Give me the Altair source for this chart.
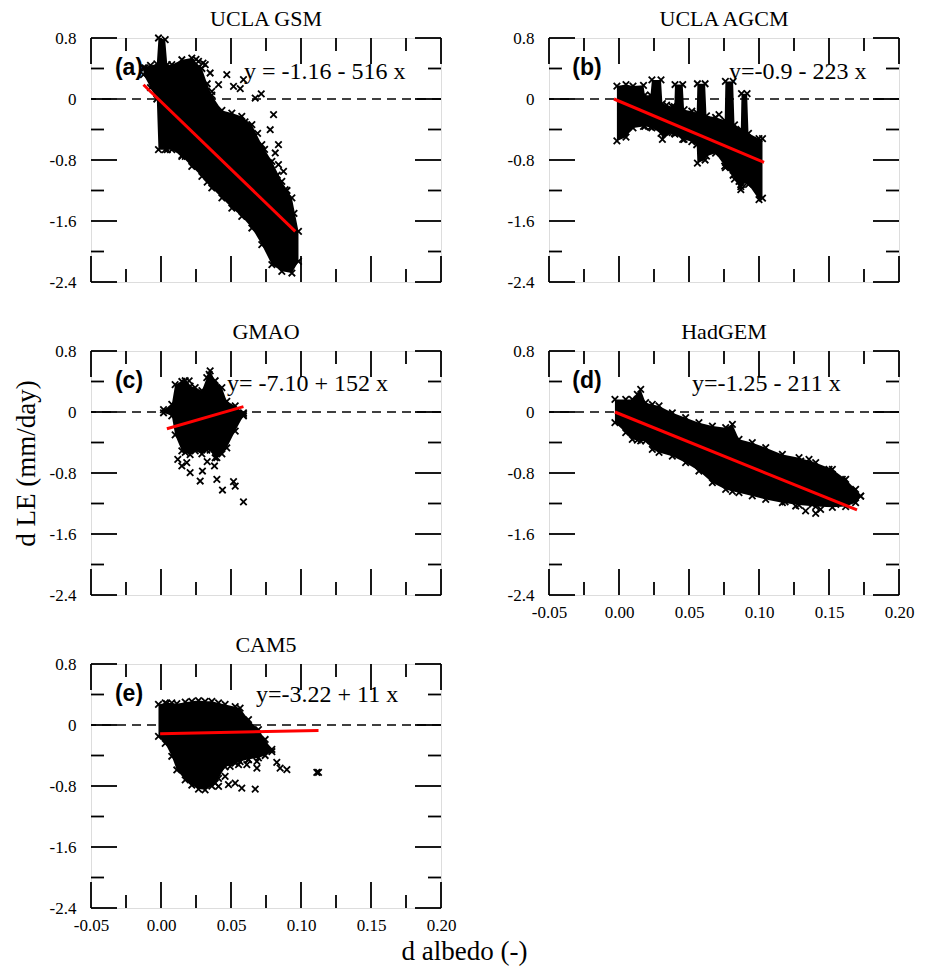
import altair as alt
import pandas as pd

SERIF = "Liberation Serif"
SANS = "Liberation Sans"
X_PATH = "M-1,-1L1,1M-1,1L1,-1"
W, H = 350, 244

# tick values
XT_MAJOR = [-0.05, 0.0, 0.05, 0.10, 0.15, 0.20]
XT_MINOR = [-0.025, 0.025, 0.075, 0.125, 0.175]
YT_MAJOR = [0.8, 0.0, -0.8, -1.6, -2.4]
YT_MINOR = [0.4, -0.4, -1.2, -2.0]

# ---------------- panel (a) UCLA GSM ----------------
a_env_x = [-0.0125, -0.0075, -0.0030, -0.0018, 0.0030, 0.0045, 0.0077, 0.0149, 0.0220, 0.0292,
           0.0330, 0.0363, 0.0435, 0.0506, 0.0577, 0.0649, 0.0720, 0.0792, 0.0863, 0.0935, 0.0982]
a_env_top = [0.41, 0.44, 0.46, 0.80, 0.78, 0.45, 0.45, 0.515, 0.537, 0.40,
             0.20, 0.05, -0.15, -0.184, -0.228, -0.337, -0.599, -0.818, -1.081, -1.298, -1.736]
a_env_bot = [0.32, 0.15, 0.00, -0.665, -0.665, -0.665, -0.665, -0.752, -0.884, -1.015,
             -1.09, -1.167, -1.298, -1.43, -1.54, -1.692, -1.911, -2.173, -2.26, -2.282, -2.13]
a_out_x = [0.0351, 0.0470, 0.0411, 0.0363, 0.0518, 0.0566, 0.0673, 0.0716, 0.0804, 0.0780, 0.0839,
           0.0816, 0.0768, 0.0839, 0.0875, 0.0887, 0.0173, -0.0113, 0.0268, 0.0316, 0.0589, 0.0150,
           0.0600, 0.0690, 0.0740, 0.0830, 0.0900, 0.0950, 0.0300, 0.0250]
a_out_y = [0.341, 0.319, 0.188, 0.100, 0.165, 0.135, 0.013, 0.066, -0.206, -0.403, -0.599,
           -0.708, -0.839, -0.862, -0.950, -1.190, -0.753, 0.407, 0.493, 0.450, 0.253, -0.74,
           -0.30, -0.45, -0.66, -1.00, -1.20, -1.50, 0.47, 0.52]
a_line_x = [-0.0125, 0.0959]
a_line_y = [0.187, -1.736]

# ---------------- panel (b) UCLA AGCM ----------------
b_env_x = [-0.0015, 0.005, 0.010, 0.0175, 0.0185, 0.0225, 0.0235, 0.0300, 0.0310, 0.0380, 0.0395,
           0.0400, 0.0455, 0.0465, 0.0520, 0.0555, 0.0560, 0.0615, 0.0625, 0.0690, 0.0755, 0.0760,
           0.0815, 0.0825, 0.0870, 0.0875, 0.0915, 0.0925, 0.1000, 0.1025]
b_env_top = [0.17, 0.19, 0.17, 0.18, 0.05, 0.05, 0.25, 0.25, -0.06, -0.10, -0.10,
             0.19, 0.19, -0.14, -0.16, -0.18, 0.20, 0.20, -0.22, -0.24, -0.28, 0.23,
             0.23, -0.34, -0.40, 0.07, 0.07, -0.45, -0.52, -0.52]
b_env_bot = [-0.55, -0.50, -0.38, -0.36, -0.36, -0.37, -0.38, -0.45, -0.53, -0.44, -0.45,
             -0.46, -0.53, -0.53, -0.56, -0.60, -0.84, -0.80, -0.75, -0.71, -0.88, -0.90,
             -1.00, -1.05, -1.19, -1.12, -1.10, -1.12, -1.32, -1.30]
b_out_x = [0.0714, 0.0857, 0.0870, 0.0340, 0.0660]
b_out_y = [-0.206, -1.08, -1.15, -0.08, -0.27]
b_line_x = [-0.0036, 0.1036]
b_line_y = [0.0, -0.831]

# ---------------- panel (c) GMAO ----------------
c_env_x = [0.0018, 0.0077, 0.0101, 0.0149, 0.0173, 0.0208, 0.0244, 0.0292, 0.0327, 0.0351, 0.0387,
           0.0435, 0.0470, 0.0530, 0.0589]
c_env_top = [0.03, 0.10, 0.36, 0.40, 0.41, 0.34, 0.32, 0.28, 0.45, 0.54, 0.41, 0.32, 0.14, 0.08, -0.01]
c_env_bot = [-0.01, -0.05, -0.30, -0.51, -0.53, -0.56, -0.51, -0.55, -0.50, -0.50, -0.60, -0.55,
             -0.47, -0.25, -0.05]
c_out_x = [0.0149, 0.0208, 0.0184, 0.0280, 0.0296, 0.0399, 0.0439, 0.0518, 0.0530, 0.0589, 0.0382,
           0.0399, 0.0344, 0.0201, 0.0589, 0.0120, 0.0330]
c_out_y = [-0.708, -0.796, -0.665, -0.905, -0.774, -0.884, -1.023, -0.914, -0.971, -1.180, -0.708,
           -0.599, 0.493, 0.407, -0.031, -0.62, -0.65]
c_line_x = [0.0042, 0.0589]
c_line_y = [-0.219, 0.070]

# ---------------- panel (d) HadGEM ----------------
d_env_x = [-0.0029, 0.0048, 0.0095, 0.0131, 0.0155, 0.0190, 0.0238, 0.0286, 0.0381, 0.0476, 0.0571,
           0.0667, 0.0762, 0.0810, 0.0857, 0.0952, 0.1048, 0.1167, 0.1286, 0.1405, 0.1524, 0.1619,
           0.1690, 0.1726]
d_env_top = [0.165, 0.165, 0.165, 0.231, 0.296, 0.122, 0.10, 0.08, -0.01, -0.075, -0.14, -0.184,
             -0.206, -0.162, -0.359, -0.402, -0.468, -0.556, -0.599, -0.665, -0.752, -0.883,
             -1.015, -1.102]
d_env_bot = [-0.14, -0.27, -0.36, -0.37, -0.38, -0.38, -0.49, -0.53, -0.58, -0.665, -0.774, -0.927,
             -1.015, -1.04, -1.058, -1.10, -1.146, -1.19, -1.22, -1.24, -1.25, -1.24, -1.19, -1.102]
d_out_x = [0.1186, 0.1262, 0.1333, 0.1405, 0.1298, 0.1357, 0.1429, 0.1500, 0.1524, 0.1595, 0.1238,
           0.1119, 0.1548, 0.1381, 0.1440]
d_out_y = [-1.180, -1.233, -1.298, -1.329, -0.643, -0.622, -0.752, -0.752, -0.818, -0.883, -1.080,
           -1.102, -1.211, -1.211, -1.277]
d_line_x = [-0.0029, 0.170]
d_line_y = [0.0, -1.285]

# ---------------- panel (e) CAM5 ----------------
e_env_x = [-0.0018, 0.0030, 0.0077, 0.0113, 0.0173, 0.0220, 0.0268, 0.0315, 0.0363, 0.0411, 0.0458,
           0.0530, 0.0565, 0.0625, 0.0696, 0.0744, 0.0792]
e_env_top = [0.27, 0.29, 0.29, 0.28, 0.30, 0.31, 0.32, 0.31, 0.31, 0.29, 0.27, 0.24, 0.22, 0.07,
             -0.06, -0.19, -0.32]
e_env_bot = [-0.15, -0.24, -0.41, -0.59, -0.72, -0.79, -0.84, -0.85, -0.80, -0.70, -0.55, -0.50,
             -0.48, -0.45, -0.43, -0.40, -0.35]
e_out_x = [0.0375, 0.0387, 0.0482, 0.0530, 0.0577, 0.0673, 0.0613, 0.0625, 0.0685, 0.0685, 0.0827,
           0.0851, 0.0899, 0.1113, 0.1125, 0.0411, 0.0554, 0.0458, 0.0494, 0.0040]
e_out_y = [-0.695, -0.761, -0.783, -0.761, -0.827, -0.840, -0.521, -0.456, -0.478, -0.565, -0.490,
           -0.565, -0.586, -0.621, -0.621, -0.805, -0.521, -0.674, -0.543, 0.28]
e_line_x = [-0.0006, 0.1125]
e_line_y = [-0.114, -0.071]

titles = ["UCLA GSM", "UCLA AGCM", "GMAO", "HadGEM", "CAM5"]
tags = ["(a)", "(b)", "(c)", "(d)", "(e)"]
equations = ["y = -1.16 - 516 x", "y=-0.9 - 223 x", "y= -7.10 + 152 x", "y=-1.25 - 211 x", "y=-3.22 + 11 x"]
eq_pos = [(153, 34), (180, 34), (136, 33), (143, 33), (165, 31)]


def panel(i, env_x, env_top, env_bot, out_x, out_y, ln_x, ln_y,
          xlabels=False, xtitle=None, ytitle=None):
    xscale = alt.Scale(domain=[-0.05, 0.20], nice=False, zero=False)
    yscale = alt.Scale(domain=[-2.4, 0.8], nice=False, zero=False)
    if xlabels:
        xkw = dict(values=XT_MAJOR,
                   labelExpr="replace(format(datum.value, '.2f'), '\u2212', '-')",
                   labelPadding=9,
                   labelFlush=False, labelOverlap=False, labelFont=SERIF, labelFontSize=17,
                   grid=False, ticks=False, domain=False)
        if xtitle:
            xkw.update(title=xtitle, titleX=373, titleY=43, titleAlign="center",
                       titleBaseline="middle", titleFont=SERIF, titleFontSize=27,
                       titleFontWeight="normal", titleAngle=0)
        else:
            xkw.update(title=None)
        xaxis = alt.Axis(**xkw)
    else:
        xaxis = None
    ykw = dict(values=YT_MAJOR,
               labelExpr="datum.value == 0 ? '0' : replace(format(datum.value, '.1f'), '\u2212', '-')",
               labelPadding=15, labelFlush=False, labelOverlap=False,
               labelFont=SERIF, labelFontSize=17, grid=False, ticks=False, domain=False)
    if ytitle:
        ykw.update(title=ytitle, titleX=-65, titleY=112, titleAlign="center",
                   titleBaseline="middle", titleFont=SERIF, titleFontSize=27,
                   titleFontWeight="normal", titleAngle=270)
    else:
        ykw.update(title=None)
    yaxis = alt.Axis(**ykw)

    def X(f):
        return alt.X(f, type="quantitative", scale=xscale, axis=xaxis)

    def Y(f):
        return alt.Y(f, type="quantitative", scale=yscale, axis=yaxis)

    env = pd.DataFrame({"x": env_x, "top": env_top, "bot": env_bot})
    out = pd.DataFrame({"x": out_x, "y": out_y})
    ln = pd.DataFrame({"x": ln_x, "y": ln_y})
    zero = pd.DataFrame({"y": [0.0]})
    xmaj = pd.DataFrame({"t": XT_MAJOR})
    xmin = pd.DataFrame({"t": XT_MINOR})
    ymaj = pd.DataFrame({"t": YT_MAJOR})
    ymin = pd.DataFrame({"t": YT_MINOR})
    txt = pd.DataFrame({"tag": [tags[i]], "eq": [equations[i]]})

    pt = dict(shape=X_PATH, filled=False, color="black", strokeWidth=1.8, size=42, opacity=1)

    layers = [
        alt.Chart(zero).mark_rule(color="black", strokeWidth=1.5, strokeDash=[9, 6]).encode(y=Y("y")),
        alt.Chart(env).mark_area(color="black", opacity=1, interpolate="linear").encode(
            x=X("x"), y=Y("top"), y2=alt.Y2("bot")),
        alt.Chart(env).mark_point(**pt).encode(x=X("x"), y=Y("top")),
        alt.Chart(env).mark_point(**pt).encode(x=X("x"), y=Y("bot")),
        alt.Chart(out).mark_point(**pt).encode(x=X("x"), y=Y("y")),
    ]
    tk = dict(color="black", strokeWidth=1.8)
    for df, ln_len in ((xmaj, 26), (xmin, 13)):
        layers.append(alt.Chart(df).mark_rule(**tk).encode(x=X("t"), y=alt.value(H), y2=alt.value(H - ln_len)))
        layers.append(alt.Chart(df).mark_rule(**tk).encode(x=X("t"), y=alt.value(0), y2=alt.value(ln_len)))
    for df, ln_len in ((ymaj, 26), (ymin, 13)):
        layers.append(alt.Chart(df).mark_rule(**tk).encode(y=Y("t"), x=alt.value(0), x2=alt.value(ln_len)))
        layers.append(alt.Chart(df).mark_rule(**tk).encode(y=Y("t"), x=alt.value(W), x2=alt.value(W - ln_len)))
    layers.append(alt.Chart(ln).mark_line(color="#ff0000", strokeWidth=3).encode(x=X("x"), y=Y("y")))
    layers.append(alt.Chart(txt).mark_text(font=SANS, fontSize=23, fontWeight="bold", color="black",
                                           align="center", baseline="middle").encode(
        text="tag:N", x=alt.value(38), y=alt.value(30)))
    ex, ey = eq_pos[i]
    layers.append(alt.Chart(txt).mark_text(font=SERIF, fontSize=24, color="black",
                                           align="left", baseline="middle").encode(
        text="eq:N", x=alt.value(ex), y=alt.value(ey)))

    return alt.layer(*layers).properties(
        width=W, height=H,
        title=alt.TitleParams(titles[i], font=SERIF, fontSize=22, fontWeight="normal",
                              color="black", anchor="middle", baseline="alphabetic",
                              offset=3, dy=22))


pa = panel(0, a_env_x, a_env_top, a_env_bot, a_out_x, a_out_y, a_line_x, a_line_y)
pb = panel(1, b_env_x, b_env_top, b_env_bot, b_out_x, b_out_y, b_line_x, b_line_y)
pc = panel(2, c_env_x, c_env_top, c_env_bot, c_out_x, c_out_y, c_line_x, c_line_y, ytitle="d LE (mm/day)")
pd_ = panel(3, d_env_x, d_env_top, d_env_bot, d_out_x, d_out_y, d_line_x, d_line_y, xlabels=True)
pe = panel(4, e_env_x, e_env_top, e_env_bot, e_out_x, e_out_y, e_line_x, e_line_y,
           xlabels=True, xtitle="d albedo (-)")

chart = alt.concat(pa, pb, pc, pd_, pe, columns=2, spacing={"row": 69, "column": 108},
                   bounds="flush").properties(
    padding={"left": 11, "top": 7, "right": 5, "bottom": 5}
).configure_view(stroke="black", strokeWidth=2.5).configure_axis(
    grid=False, domain=False, ticks=False, labelColor="black", titleColor="black"
).configure(background="white")

chart.save("out.html", embed_options={"renderer": "svg", "actions": False})
